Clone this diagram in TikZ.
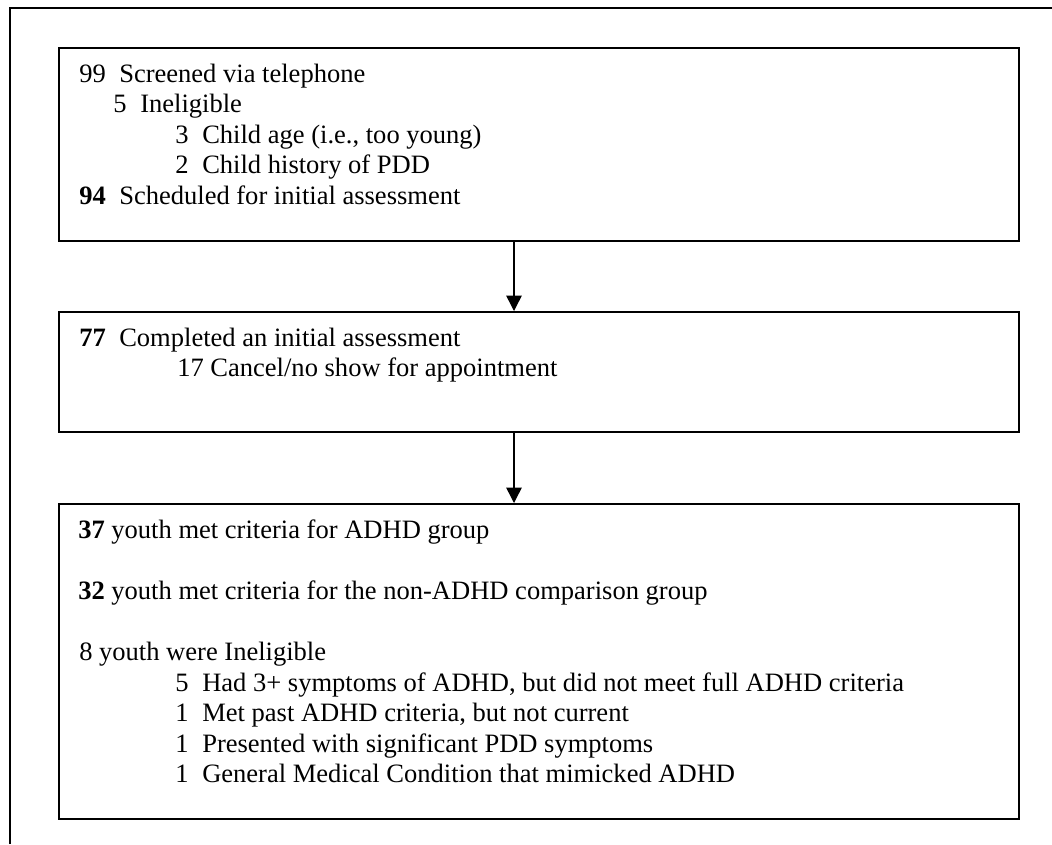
\documentclass[tikz,border=0pt]{standalone}
\usepackage{fontspec}
\setmainfont{Liberation Serif}
\usetikzlibrary{arrows.meta}
\tikzset{
  box/.style={draw, line width=1.4pt, anchor=north west, inner sep=0pt, minimum width=960*0.75pt},
  txt/.style={anchor=base west, inner sep=0pt, font=\fontsize{19.9pt}{23pt}\selectfont},
  flow/.style={-{Triangle[length=11.5pt, width=11.5pt]}, line width=1.1pt}
}
\newcommand{\tabnum}[2]{\makebox[#1][l]{#2}}

\begin{document}
\begin{tikzpicture}[x=0.75pt, y=-0.75pt]
        \useasboundingbox (0,0) rectangle (1052,844);
        % Frame
        \draw [line width=1.8pt] (10,844) -- (10,8) -- (1052,8);
        % Boxes
        \node [box, minimum height=193*0.75pt] (screen) at (58,47) {};
        \node [box, minimum height=120*0.75pt] (assess) at (58,311) {};
        \node [box, minimum height=315*0.75pt] (result) at (58,503) {};
        % Screening
        \node [txt] (screened) at (79,82) {\tabnum{30pt}{99}Screened via telephone};
        \node [txt] (inelig) at (113,112.5) {\tabnum{20.25pt}{5}Ineligible};
        \node [txt] (age) at (175,143) {\tabnum{20.25pt}{3}Child age (i.e., too young)};
        \node [txt] (history) at (175,173.5) {\tabnum{20.25pt}{2}Child history of PDD};
        \node [txt] (sched) at (79,204) {\tabnum{30pt}{\textbf{94}}Scheduled for initial assessment};
        % Assessment
        \node [txt] (completed) at (79,346) {\tabnum{30pt}{\textbf{77}}Completed an initial assessment};
        \node [txt] (cancel) at (177,376.5) {17 Cancel/no show for appointment};
        % Outcome
        \node [txt] (adhd) at (78,538.5) {\textbf{37} youth met criteria for ADHD group};
        \node [txt] (nonadhd) at (78,599.5) {\textbf{32} youth met criteria for the non-ADHD comparison group};
        \node [txt] (excluded) at (79,660.5) {8 youth were Ineligible};
        \node [txt] (symptoms) at (175,691) {\tabnum{20.25pt}{5}Had 3+ symptoms of ADHD, but did not meet full ADHD criteria};
        \node [txt] (past) at (175,721.5) {\tabnum{20.25pt}{1}Met past ADHD criteria, but not current};
        \node [txt] (pddsym) at (175,752) {\tabnum{20.25pt}{1}Presented with significant PDD symptoms};
        \node [txt] (medical) at (175,782.5) {\tabnum{20.25pt}{1}General Medical Condition that mimicked ADHD};
        % Arrows
        \coordinate (axis) at (514,0);
        \draw [flow] (axis |- screen.south) -- (axis |- assess.north);
        \draw [flow] (axis |- assess.south) -- (axis |- result.north);
    \end{tikzpicture}
\end{document}
